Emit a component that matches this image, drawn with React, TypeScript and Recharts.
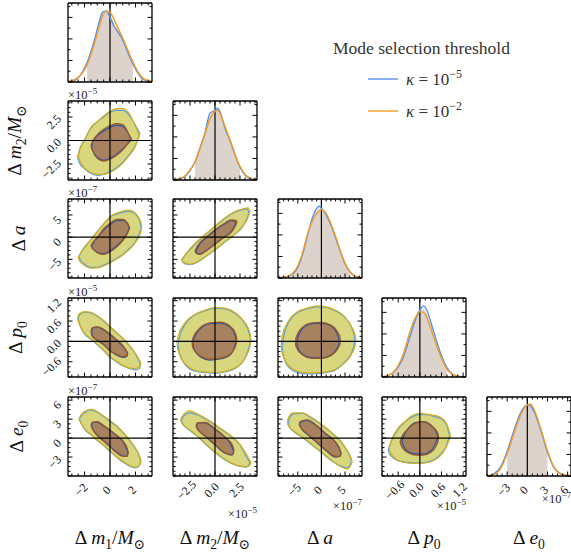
import React from 'react';
import { ComposedChart, Area, Line, XAxis, YAxis, ReferenceLine } from 'recharts';

// ---------------- axis definitions (values in plotted units) ----------------
const m1Domain = [-3.3, 3.3];
const m2Domain = [-4.2, 4.2];
const aDomain = [-9.2, 8.6];
const p0Domain = [-1.05, 1.28];
const e0Domain = [-6.0, 6.5];

const m1Major = [-2, 0, 2];
const m2Major = [-2.5, 0, 2.5];
const aMajor = [-5, 0, 5];
const p0Major = [-0.6, 0, 0.6, 1.2];
const e0Major = [-3, 0, 3, 6];

const m1TickLabels = ['−2', '0', '2'];
const m2TickLabels = ['−2.5', '0.0', '2.5'];
const aTickLabels = ['−5', '0', '5'];
const p0TickLabels = ['−0.6', '0.0', '0.6', '1.2'];
const e0TickLabels = ['−3', '0', '3', '6'];

const minorSteps = [0.5, 0.5, 1, 0.15, 0.75];
const offsetExponents = ['', '−5', '−7', '−5', '−7'];

// ---------------- 1D marginal curves (peak-normalised density) ----------------
const m1Grid = [-3.3, -3.0, -2.7, -2.4, -2.1, -1.8, -1.5, -1.2, -0.9, -0.6, -0.3, 0, 0.3, 0.6, 0.9, 1.2, 1.5, 1.8, 2.1, 2.4, 2.7, 3.0, 3.3];
const m1Blue = [0.0, 0.01, 0.03, 0.08, 0.16, 0.27, 0.42, 0.6, 0.8, 0.97, 0.99, 0.9, 0.78, 0.7, 0.62, 0.5, 0.37, 0.25, 0.15, 0.07, 0.03, 0.01, 0.0];
const m1Orange = [0.01, 0.02, 0.04, 0.08, 0.14, 0.24, 0.38, 0.55, 0.74, 0.91, 0.99, 0.97, 0.88, 0.76, 0.65, 0.53, 0.4, 0.28, 0.17, 0.09, 0.04, 0.02, 0.01];
const m1FillRange = [-1.8, 1.8];

const m2Grid = [-4.2, -3.5, -3.0, -2.5, -2.0, -1.5, -1.0, -0.5, 0, 0.25, 0.5, 1.0, 1.5, 2.0, 2.5, 3.0, 3.5, 4.2];
const m2Blue = [0.0, 0.02, 0.05, 0.13, 0.25, 0.45, 0.66, 0.93, 0.97, 1.0, 0.95, 0.72, 0.55, 0.35, 0.18, 0.07, 0.02, 0.0];
const m2Orange = [0.0, 0.02, 0.06, 0.14, 0.25, 0.44, 0.64, 0.85, 0.96, 0.97, 0.93, 0.74, 0.56, 0.36, 0.19, 0.08, 0.03, 0.01];
const m2FillRange = [-2.0, 2.5];

const aGrid = [-9.2, -8, -7, -6, -5, -4, -3, -2, -1, -0.5, 0, 1, 2, 3, 4, 5, 6, 7, 8, 8.6];
const aBlue = [0, 0.01, 0.02, 0.06, 0.15, 0.33, 0.58, 0.82, 0.97, 1.0, 0.97, 0.88, 0.74, 0.56, 0.37, 0.2, 0.09, 0.03, 0.01, 0];
const aOrange = [0, 0.01, 0.03, 0.07, 0.17, 0.35, 0.6, 0.78, 0.9, 0.93, 0.95, 0.9, 0.76, 0.58, 0.38, 0.21, 0.09, 0.03, 0.01, 0];
const aFillRange = [-6, 6];

const p0Grid = [-1.05, -0.9, -0.75, -0.6, -0.45, -0.3, -0.15, 0, 0.1, 0.2, 0.3, 0.45, 0.6, 0.75, 0.9, 1.05, 1.28];
const p0Blue = [0.0, 0.02, 0.06, 0.14, 0.29, 0.52, 0.76, 0.93, 0.99, 0.92, 0.77, 0.52, 0.3, 0.13, 0.04, 0.01, 0.0];
const p0Orange = [0.0, 0.02, 0.06, 0.16, 0.33, 0.59, 0.8, 0.91, 0.9, 0.82, 0.68, 0.46, 0.26, 0.11, 0.04, 0.01, 0.0];
const p0FillRange = [-0.75, 0.75];

const e0Grid = [-6, -5, -4, -3, -2, -1, 0, 0.5, 1, 2, 3, 4, 5, 6, 6.5];
const e0Blue = [0.0, 0.03, 0.12, 0.34, 0.63, 0.88, 0.99, 0.97, 0.9, 0.64, 0.33, 0.11, 0.03, 0.0, 0.0];
const e0Orange = [0.0, 0.02, 0.1, 0.31, 0.59, 0.85, 0.99, 1.0, 0.93, 0.66, 0.35, 0.12, 0.03, 0.01, 0.0];
const e0FillRange = [-3, 3];

// ---------------- 2D credible contours: [x, yLow, yHigh] ----------------
// row Δm2 vs col Δm1
const m2m1OrangeOuter = [[-2.5, -1.6, -1.6], [-2.35, -2.2, -0.9], [-2.0, -2.9, 0.0], [-1.5, -3.4, 1.4], [-1.0, -3.6, 2.0], [-0.5, -3.6, 2.6], [0, -3.4, 3.1], [0.5, -3.0, 3.4], [1.0, -2.4, 3.4], [1.5, -1.6, 2.9], [2.0, -0.6, 1.5], [2.2, 0.1, 0.9], [2.3, 0.5, 0.5]];
const m2m1BlueOuter = [[-2.55, -1.8, -1.8], [-2.4, -2.4, -1.0], [-2.0, -3.0, 0.1], [-1.5, -3.5, 1.3], [-1.0, -3.7, 2.0], [-0.5, -3.6, 2.5], [0, -3.3, 3.0], [0.5, -2.9, 3.2], [1.0, -2.3, 3.2], [1.5, -1.5, 2.7], [2.0, -0.5, 1.6], [2.25, 0.4, 1.0], [2.35, 0.7, 0.7]];
const m2m1OrangeInner = [[-1.5, -0.6, -0.6], [-1.4, -1.0, -0.2], [-1.0, -1.9, 0.6], [-0.5, -2.2, 1.2], [0, -2.0, 1.6], [0.5, -1.6, 1.8], [1.0, -1.0, 1.7], [1.4, -0.3, 0.9], [1.6, 0.2, 0.2]];
const m2m1BlueInner = [[-1.45, -0.7, -0.7], [-1.35, -1.1, -0.2], [-1.0, -1.8, 0.5], [-0.5, -2.1, 1.0], [0, -1.9, 1.4], [0.5, -1.5, 1.6], [1.0, -0.9, 1.5], [1.5, -0.2, 0.6], [1.7, 0.1, 0.1]];

// row Δa vs col Δm1
const am1OrangeOuter = [[-2.5, -4.7, -4.7], [-2.4, -5.3, -4.0], [-2.0, -6.4, -2.4], [-1.5, -7.0, -0.6], [-1.0, -6.9, 1.2], [-0.5, -6.5, 2.9], [0, -5.8, 4.6], [0.5, -5.0, 5.4], [1.0, -4.0, 5.9], [1.5, -2.8, 6.1], [2.0, -1.2, 5.4], [2.4, 1.0, 3.6], [2.5, 2.3, 2.3]];
const am1BlueOuter = [[-2.45, -4.5, -4.5], [-2.3, -5.2, -3.6], [-2.0, -6.1, -2.2], [-1.5, -6.8, -0.5], [-1.0, -6.8, 1.3], [-0.5, -6.3, 3.0], [0, -5.6, 4.5], [0.5, -4.8, 5.2], [1.0, -3.9, 5.6], [1.5, -2.6, 5.8], [2.0, -1.0, 5.2], [2.35, 1.2, 3.4], [2.45, 2.2, 2.2]];
const am1OrangeInner = [[-1.5, -2.0, -2.0], [-1.4, -2.4, -1.4], [-1.0, -3.5, 0.0], [-0.5, -3.9, 1.9], [0, -3.3, 3.1], [0.5, -2.3, 4.0], [1.0, -0.8, 4.0], [1.4, 1.0, 3.0], [1.55, 2.1, 2.1]];
const am1BlueInner = [[-1.45, -2.2, -2.2], [-1.3, -2.8, -1.2], [-1.0, -3.4, -0.2], [-0.5, -3.7, 1.6], [0, -3.1, 2.8], [0.5, -2.0, 3.7], [1.0, -0.6, 3.8], [1.4, 1.2, 3.0], [1.5, 2.0, 2.0]];

// row Δp0 vs col Δm1
const p0m1OrangeOuter = [[-2.55, 0.68, 0.68], [-2.45, 0.55, 0.8], [-2.0, 0.25, 0.88], [-1.5, 0.08, 0.86], [-1.0, -0.08, 0.76], [-0.5, -0.25, 0.62], [0, -0.45, 0.44], [0.5, -0.58, 0.27], [1.0, -0.7, 0.1], [1.5, -0.78, -0.1], [2.0, -0.8, -0.35], [2.35, -0.72, -0.58], [2.45, -0.66, -0.66]];
const p0m1BlueOuter = [[-2.5, 0.66, 0.66], [-2.4, 0.52, 0.78], [-2.0, 0.22, 0.86], [-1.5, 0.06, 0.84], [-1.0, -0.1, 0.74], [-0.5, -0.27, 0.6], [0, -0.47, 0.42], [0.5, -0.6, 0.26], [1.0, -0.72, 0.08], [1.5, -0.8, -0.12], [2.0, -0.84, -0.38], [2.3, -0.8, -0.6], [2.4, -0.72, -0.72]];
const p0m1OrangeInner = [[-1.5, 0.3, 0.3], [-1.4, 0.15, 0.4], [-1.0, 0.05, 0.43], [-0.5, -0.08, 0.36], [0, -0.27, 0.22], [0.5, -0.38, 0.06], [1.0, -0.45, -0.12], [1.3, -0.42, -0.28], [1.4, -0.36, -0.36]];
const p0m1BlueInner = [[-1.45, 0.28, 0.28], [-1.35, 0.14, 0.4], [-1.0, 0.03, 0.42], [-0.5, -0.1, 0.34], [0, -0.28, 0.2], [0.5, -0.4, 0.04], [1.0, -0.47, -0.14], [1.3, -0.45, -0.3], [1.4, -0.38, -0.38]];

// row Δe0 vs col Δm1
const e0m1OrangeOuter = [[-2.45, 3.0, 3.0], [-2.3, 2.4, 3.6], [-2.0, 1.5, 4.2], [-1.5, 0.6, 4.6], [-1.0, -0.3, 4.2], [-0.5, -1.1, 3.5], [0, -2.0, 2.8], [0.5, -2.9, 2.0], [1.0, -3.6, 1.0], [1.5, -4.3, -0.2], [2.0, -4.6, -1.6], [2.35, -4.2, -3.0], [2.45, -3.6, -3.6]];
const e0m1BlueOuter = [[-2.4, 3.0, 3.0], [-2.25, 2.3, 3.5], [-2.0, 1.4, 4.0], [-1.5, 0.5, 4.4], [-1.0, -0.4, 4.1], [-0.5, -1.2, 3.4], [0, -2.1, 2.6], [0.5, -3.0, 1.9], [1.0, -3.8, 0.9], [1.5, -4.4, -0.3], [2.0, -4.7, -1.7], [2.3, -4.4, -2.9], [2.4, -3.7, -3.7]];
const e0m1OrangeInner = [[-1.5, 2.0, 2.0], [-1.4, 1.5, 2.5], [-1.0, 0.4, 2.6], [-0.5, -0.5, 2.0], [0, -1.4, 1.3], [0.5, -2.3, 0.5], [1.0, -2.9, -0.4], [1.35, -2.9, -1.6], [1.45, -2.3, -2.3]];
const e0m1BlueInner = [[-1.45, 2.0, 2.0], [-1.35, 1.4, 2.5], [-1.0, 0.5, 2.5], [-0.5, -0.4, 1.9], [0, -1.3, 1.2], [0.5, -2.2, 0.4], [1.0, -2.8, -0.5], [1.3, -2.9, -1.7], [1.4, -2.4, -2.4]];

// row Δa vs col Δm2
const am2OrangeOuter = [[-3.35, -5.1, -5.1], [-3.2, -5.6, -4.6], [-2.5, -6.1, -2.6], [-2.0, -5.8, -1.4], [-1.0, -4.4, 0.6], [0, -2.8, 2.5], [1.0, -1.0, 4.4], [2.0, 0.8, 5.8], [2.8, 2.6, 6.4], [3.3, 4.4, 6.6], [3.5, 5.8, 5.8]];
const am2BlueOuter = [[-3.3, -5.3, -5.3], [-3.1, -5.9, -4.4], [-2.5, -6.2, -2.8], [-2.0, -5.9, -1.6], [-1.0, -4.5, 0.5], [0, -2.9, 2.4], [1.0, -1.1, 4.2], [2.0, 0.7, 5.6], [2.8, 2.5, 6.2], [3.2, 4.2, 6.3], [3.4, 5.5, 5.5]];
const am2OrangeInner = [[-2.0, -3.2, -3.2], [-1.9, -3.6, -2.6], [-1.5, -3.9, -1.2], [-1.0, -3.3, -0.2], [0, -1.6, 1.7], [1.0, 0.1, 3.2], [1.6, 1.0, 3.9], [2.1, 2.8, 3.8], [2.2, 3.4, 3.4]];
const am2BlueInner = [[-1.9, -3.3, -3.3], [-1.8, -3.7, -2.7], [-1.5, -3.8, -1.5], [-1.0, -3.2, -0.4], [0, -1.5, 1.5], [1.0, 0.2, 3.0], [1.6, 1.2, 3.7], [2.0, 2.7, 3.6], [2.1, 3.2, 3.2]];

// row Δp0 vs col Δm2
const p0m2OrangeOuter = [[-3.8, -0.05, -0.05], [-3.7, -0.25, 0.15], [-3.0, -0.65, 0.55], [-2.0, -0.85, 0.8], [-1.0, -0.9, 0.92], [0, -0.92, 1.0], [1.0, -0.88, 0.98], [2.0, -0.78, 0.85], [3.0, -0.5, 0.55], [3.5, -0.15, 0.25], [3.6, 0.05, 0.05]];
const p0m2BlueOuter = [[-3.7, -0.1, -0.1], [-3.55, -0.35, 0.12], [-3.0, -0.68, 0.5], [-2.0, -0.88, 0.78], [-1.0, -0.92, 0.9], [0, -0.94, 0.98], [1.0, -0.9, 0.96], [2.0, -0.8, 0.82], [3.0, -0.48, 0.52], [3.45, -0.1, 0.2], [3.55, 0.05, 0.05]];
const p0m2OrangeInner = [[-2.3, -0.05, -0.05], [-2.2, -0.2, 0.1], [-1.5, -0.42, 0.4], [-0.5, -0.52, 0.55], [0.5, -0.5, 0.57], [1.5, -0.38, 0.45], [2.1, -0.1, 0.2], [2.2, 0.05, 0.05]];
const p0m2BlueInner = [[-2.2, -0.05, -0.05], [-2.1, -0.22, 0.08], [-1.5, -0.45, 0.36], [-0.5, -0.55, 0.52], [0.5, -0.52, 0.54], [1.5, -0.4, 0.42], [2.0, -0.12, 0.18], [2.1, 0.03, 0.03]];

// row Δe0 vs col Δm2
const e0m2OrangeOuter = [[-3.45, 2.8, 2.8], [-3.3, 2.3, 3.4], [-2.5, 1.3, 4.3], [-1.5, 0.0, 3.6], [-0.5, -1.5, 2.7], [0.5, -2.8, 1.6], [1.5, -3.8, 0.5], [2.5, -4.4, -1.0], [3.3, -4.5, -3.0], [3.5, -4.2, -3.6], [3.6, -3.9, -3.9]];
const e0m2BlueOuter = [[-3.35, 2.7, 2.7], [-3.2, 2.2, 3.3], [-2.5, 1.2, 4.0], [-1.5, -0.1, 3.5], [-0.5, -1.6, 2.6], [0.5, -2.9, 1.5], [1.5, -3.9, 0.4], [2.5, -4.5, -1.1], [3.2, -4.6, -3.1], [3.4, -4.1, -3.6], [3.5, -3.85, -3.85]];
const e0m2OrangeInner = [[-1.9, 1.95, 1.95], [-1.8, 1.5, 2.4], [-1.0, 0.4, 2.5], [0, -1.0, 1.5], [1.0, -2.3, 0.2], [1.8, -2.6, -1.3], [1.9, -2.0, -2.0]];
const e0m2BlueInner = [[-1.85, 1.9, 1.9], [-1.7, 1.4, 2.4], [-1.0, 0.3, 2.4], [0, -1.1, 1.4], [1.0, -2.4, 0.1], [1.7, -2.7, -1.4], [1.85, -2.1, -2.1]];

// row Δp0 vs col Δa
const p0aOrangeOuter = [[-8.5, -0.1, -0.1], [-8.4, -0.3, 0.1], [-7, -0.7, 0.6], [-5, -0.88, 0.88], [-3, -0.93, 0.98], [-1, -0.92, 1.05], [1, -0.9, 1.02], [3, -0.82, 0.92], [5, -0.62, 0.72], [6.5, -0.35, 0.4], [7.2, -0.1, 0.15], [7.3, 0.02, 0.02]];
const p0aBlueOuter = [[-8.3, -0.15, -0.15], [-8.1, -0.4, 0.05], [-7, -0.75, 0.55], [-5, -0.92, 0.85], [-3, -0.96, 0.96], [-1, -0.95, 1.02], [1, -0.92, 1.0], [3, -0.84, 0.9], [5, -0.6, 0.7], [6.5, -0.3, 0.38], [7.0, -0.05, 0.12], [7.1, 0.03, 0.03]];
const p0aOrangeInner = [[-5.5, -0.02, -0.02], [-5.4, -0.15, 0.1], [-4, -0.4, 0.42], [-2, -0.5, 0.55], [0, -0.5, 0.56], [2, -0.42, 0.48], [3.9, -0.1, 0.15], [4.0, 0.02, 0.02]];
const p0aBlueInner = [[-5.2, -0.03, -0.03], [-5.0, -0.18, 0.1], [-4, -0.38, 0.38], [-2, -0.48, 0.52], [0, -0.49, 0.54], [2, -0.4, 0.46], [3.6, -0.12, 0.12], [3.8, 0.0, 0.0]];

// row Δe0 vs col Δa
const e0aOrangeOuter = [[-7.2, 2.5, 2.5], [-7, 1.9, 3.2], [-6, 1.2, 4.0], [-4, 0.2, 4.0], [-2, -1.0, 3.2], [0, -2.2, 2.2], [2, -3.4, 1.0], [4, -4.5, -0.4], [5.5, -4.9, -2.0], [6.3, -4.2, -3.2], [6.5, -3.7, -3.7]];
const e0aBlueOuter = [[-7.0, 2.4, 2.4], [-6.8, 1.8, 3.1], [-6, 1.1, 3.8], [-4, 0.1, 3.9], [-2, -1.1, 3.1], [0, -2.3, 2.1], [2, -3.5, 0.9], [4, -4.4, -0.5], [5.5, -4.7, -2.1], [6.2, -4.1, -3.2], [6.4, -3.6, -3.6]];
const e0aOrangeInner = [[-4.7, 2.2, 2.2], [-4.5, 1.8, 2.6], [-3, 0.7, 2.9], [-1, -0.6, 2.0], [1, -1.9, 0.7], [3, -2.9, -0.6], [4, -2.9, -1.9], [4.2, -2.4, -2.4]];
const e0aBlueInner = [[-4.6, 2.1, 2.1], [-4.4, 1.7, 2.5], [-3, 0.6, 2.8], [-1, -0.7, 1.9], [1, -2.0, 0.6], [3, -3.0, -0.7], [3.9, -2.9, -1.9], [4.1, -2.4, -2.4]];

// row Δe0 vs col Δp0
const e0p0OrangeOuter = [[-0.85, -1.5, -1.5], [-0.8, -2.5, -0.5], [-0.6, -3.5, 1.6], [-0.4, -3.9, 2.7], [-0.2, -4.0, 3.6], [0, -4.0, 3.9], [0.2, -3.9, 3.8], [0.4, -3.5, 3.6], [0.6, -2.6, 3.2], [0.75, -1.2, 2.2], [0.82, -0.2, 1.0], [0.85, 0.4, 0.4]];
const e0p0BlueOuter = [[-0.88, -2.0, -2.0], [-0.82, -2.7, -0.9], [-0.6, -3.6, 1.4], [-0.4, -3.8, 2.6], [-0.2, -3.9, 3.4], [0, -3.9, 3.7], [0.2, -3.8, 3.7], [0.4, -3.4, 3.4], [0.6, -2.4, 3.0], [0.75, -1.0, 2.0], [0.8, 0.0, 0.9], [0.83, 0.45, 0.45]];
const e0p0OrangeInner = [[-0.55, -0.6, -0.6], [-0.5, -1.4, 0.2], [-0.3, -2.4, 1.6], [-0.1, -2.7, 2.4], [0.1, -2.7, 2.6], [0.3, -2.3, 2.0], [0.5, -0.6, 0.8], [0.52, 0.1, 0.1]];
const e0p0BlueInner = [[-0.5, -0.5, -0.5], [-0.45, -1.3, 0.3], [-0.3, -2.2, 1.7], [-0.1, -2.5, 2.5], [0.1, -2.5, 2.6], [0.3, -2.0, 2.1], [0.45, -0.6, 1.0], [0.5, 0.2, 0.2]];

// ---------------- styling ----------------
const SERIF = '"Liberation Serif", "DejaVu Serif", serif';
const BLUE = '#5590ef';
const ORANGE = '#f49b22';
const DIAG_FILL = '#ddd3cd';
const OUTER_FILL = '#d9d77d';
const INNER_FILL = '#a8825f';
const BLUE_OUTER_EDGE = '#5fa4dc';
const ORANGE_OUTER_EDGE = '#d5b01e';
const BLUE_INNER_EDGE = '#2f56a8';
const ORANGE_INNER_EDGE = '#9a5a22';

const colX = [68, 173, 278, 382, 487];
const rowY = [3, 101, 199, 298, 397];
const PW = 84;
const PH = 79;
const M = 30;
const AX = 1; // axis band thickness (kept tiny; plot box stays at M)

type VarDef = { domain: number[]; major: number[]; labels: string[]; minor: number };

const VARS: VarDef[] = [
  { domain: m1Domain, major: m1Major, labels: m1TickLabels, minor: minorSteps[0] },
  { domain: m2Domain, major: m2Major, labels: m2TickLabels, minor: minorSteps[1] },
  { domain: aDomain, major: aMajor, labels: aTickLabels, minor: minorSteps[2] },
  { domain: p0Domain, major: p0Major, labels: p0TickLabels, minor: minorSteps[3] },
  { domain: e0Domain, major: e0Major, labels: e0TickLabels, minor: minorSteps[4] },
];
const DENS: VarDef = { domain: [0, 1.1], major: [0, 0.3, 0.6, 0.9], labels: [], minor: 0.15 };

function tickValues(v: VarDef) {
  const out: number[] = [];
  const k0 = Math.ceil(v.domain[0] / v.minor - 1e-6);
  const k1 = Math.floor(v.domain[1] / v.minor + 1e-6);
  for (let k = k0; k <= k1; k++) out.push(Math.round(k * v.minor * 1e6) / 1e6);
  return out;
}

const TICK_FS = 12;
const textW = (s: string) => {
  let w = 0;
  for (const c of s) w += c === '.' ? 0.25 : c === '−' ? 0.56 : 0.5;
  return w * TICK_FS;
};

function makeTick(side: string, v: VarDef, withLabels: boolean) {
  return (props: any) => {
    const { x, y, payload } = props;
    const val = Number(payload.value);
    const mi = v.major.findIndex((m) => Math.abs(m - val) < 1e-6);
    const len = mi >= 0 ? 4.5 : 2.5;
    let x2 = x;
    let y2 = y;
    if (side === 'bottom') y2 = y - len;
    else if (side === 'top') y2 = y + len;
    else if (side === 'left') x2 = x + len;
    else x2 = x - len;
    let label: any = null;
    if (withLabels && mi >= 0 && v.labels[mi] !== undefined) {
      const t = v.labels[mi];
      if (side === 'bottom') {
        const cx = x - 3.5;
        const cy = y + 14;
        label = (
          <text x={cx} y={cy} transform={`rotate(-45 ${cx} ${cy})`} textAnchor="middle" dominantBaseline="central" fontSize={TICK_FS} fontFamily={SERIF} fill="#111" stroke="none">
            {t}
          </text>
        );
      } else if (side === 'left') {
        const px = x - 6;
        const py = y + 5 - 0.354 * (textW(t) - 8);
        label = (
          <text x={px} y={py} transform={`rotate(-45 ${px} ${py})`} textAnchor="end" fontSize={TICK_FS} fontFamily={SERIF} fill="#111" stroke="none">
            {t}
          </text>
        );
      }
    }
    return (
      <g>
        <line x1={x} y1={y} x2={x2} y2={y2} stroke="#000" strokeWidth={1} />
        {label}
      </g>
    );
  };
}

function axes(xv: VarDef, yv: VarDef, showX: boolean, showY: boolean) {
  const xt = tickValues(xv);
  const yt = tickValues(yv);
  const common: any = {
    type: 'number',
    allowDataOverflow: true,
    interval: 0,
    tickLine: false,
    tickSize: 0,
    tickMargin: 0,
    axisLine: { stroke: '#000', strokeWidth: 1.3 },
  };
  return [
    <XAxis key="xb" xAxisId="b" dataKey="x" orientation="bottom" height={AX} domain={xv.domain} ticks={xt} tick={makeTick('bottom', xv, showX)} {...common} />,
    <XAxis key="xt" xAxisId="t" dataKey="x" orientation="top" height={AX} domain={xv.domain} ticks={xt} tick={makeTick('top', xv, false)} {...common} />,
    <YAxis key="yl" yAxisId="l" orientation="left" width={AX} domain={yv.domain} ticks={yt} tick={makeTick('left', yv, showY)} {...common} />,
    <YAxis key="yr" yAxisId="r" orientation="right" width={AX} domain={yv.domain} ticks={yt} tick={makeTick('right', yv, false)} {...common} />,
  ];
}

// ---------------- assemble panel tables ----------------
const diagTable = [
  { grid: m1Grid, blue: m1Blue, orange: m1Orange, fill: m1FillRange },
  { grid: m2Grid, blue: m2Blue, orange: m2Orange, fill: m2FillRange },
  { grid: aGrid, blue: aBlue, orange: aOrange, fill: aFillRange },
  { grid: p0Grid, blue: p0Blue, orange: p0Orange, fill: p0FillRange },
  { grid: e0Grid, blue: e0Blue, orange: e0Orange, fill: e0FillRange },
];

const contourTable = [
  { row: 1, col: 0, bo: m2m1BlueOuter, bi: m2m1BlueInner, oo: m2m1OrangeOuter, oi: m2m1OrangeInner },
  { row: 2, col: 0, bo: am1BlueOuter, bi: am1BlueInner, oo: am1OrangeOuter, oi: am1OrangeInner },
  { row: 3, col: 0, bo: p0m1BlueOuter, bi: p0m1BlueInner, oo: p0m1OrangeOuter, oi: p0m1OrangeInner },
  { row: 4, col: 0, bo: e0m1BlueOuter, bi: e0m1BlueInner, oo: e0m1OrangeOuter, oi: e0m1OrangeInner },
  { row: 2, col: 1, bo: am2BlueOuter, bi: am2BlueInner, oo: am2OrangeOuter, oi: am2OrangeInner },
  { row: 3, col: 1, bo: p0m2BlueOuter, bi: p0m2BlueInner, oo: p0m2OrangeOuter, oi: p0m2OrangeInner },
  { row: 4, col: 1, bo: e0m2BlueOuter, bi: e0m2BlueInner, oo: e0m2OrangeOuter, oi: e0m2OrangeInner },
  { row: 3, col: 2, bo: p0aBlueOuter, bi: p0aBlueInner, oo: p0aOrangeOuter, oi: p0aOrangeInner },
  { row: 4, col: 2, bo: e0aBlueOuter, bi: e0aBlueInner, oo: e0aOrangeOuter, oi: e0aOrangeInner },
  { row: 4, col: 3, bo: e0p0BlueOuter, bi: e0p0BlueInner, oo: e0p0OrangeOuter, oi: e0p0OrangeInner },
];

function diagRows(d: any) {
  return d.grid.map((x: number, i: number) => ({
    x,
    b: d.blue[i],
    o: d.orange[i],
    f: x >= d.fill[0] - 1e-9 && x <= d.fill[1] + 1e-9 ? (d.blue[i] + d.orange[i]) / 2 : null,
  }));
}

function contourRows(p: any) {
  const rows: any[] = [];
  ['oo', 'bo', 'oi', 'bi'].forEach((k) => {
    p[k].forEach((pt: number[]) => rows.push({ x: pt[0], [k]: [pt[1], pt[2]] }));
  });
  rows.sort((a, b) => a.x - b.x);
  return rows;
}

const chartMargin = { top: M - AX, right: M - AX, bottom: M - AX, left: M - AX };

function Wrap({ row, col, children }: any) {
  return <div style={{ position: 'absolute', left: colX[col] - M, top: rowY[row] - M }}>{children}</div>;
}

function DiagPanel({ i }: { i: number }) {
  const data = diagRows(diagTable[i]);
  return (
    <Wrap row={i} col={i}>
      <ComposedChart width={PW + 2 * M} height={PH + 2 * M} margin={chartMargin} data={data}>
        {axes(VARS[i], DENS, i === 4, false)}
        <Area xAxisId="b" yAxisId="l" dataKey="f" type="monotone" fill={DIAG_FILL} fillOpacity={1} stroke="none" isAnimationActive={false} dot={false} activeDot={false} />
        <ReferenceLine xAxisId="b" yAxisId="l" x={0} stroke="#000" strokeWidth={1.2} />
        <Line xAxisId="b" yAxisId="l" dataKey="b" type="monotone" stroke={BLUE} strokeWidth={1.4} dot={false} activeDot={false} isAnimationActive={false} />
        <Line xAxisId="b" yAxisId="l" dataKey="o" type="monotone" stroke={ORANGE} strokeWidth={1.4} dot={false} activeDot={false} isAnimationActive={false} />
      </ComposedChart>
    </Wrap>
  );
}

function ContourPanel({ p }: { p: any }) {
  const data = contourRows(p);
  const base: any = { xAxisId: 'b', yAxisId: 'l', type: 'monotone', connectNulls: true, isAnimationActive: false, dot: false, activeDot: false };
  return (
    <Wrap row={p.row} col={p.col}>
      <ComposedChart width={PW + 2 * M} height={PH + 2 * M} margin={chartMargin} data={data}>
        {axes(VARS[p.col], VARS[p.row], p.row === 4, p.col === 0)}
        <Area {...base} dataKey="oo" fill={OUTER_FILL} fillOpacity={1} stroke="none" />
        <Area {...base} dataKey="bo" fill={OUTER_FILL} fillOpacity={1} stroke="none" />
        <Area {...base} dataKey="oi" fill={INNER_FILL} fillOpacity={1} stroke="none" />
        <Area {...base} dataKey="bi" fill={INNER_FILL} fillOpacity={1} stroke="none" />
        <Area {...base} dataKey="bo" fill="none" stroke={BLUE_OUTER_EDGE} strokeWidth={1.2} />
        <Area {...base} dataKey="oo" fill="none" stroke={ORANGE_OUTER_EDGE} strokeWidth={1.2} />
        <Area {...base} dataKey="bi" fill="none" stroke={BLUE_INNER_EDGE} strokeWidth={1.2} />
        <Area {...base} dataKey="oi" fill="none" stroke={ORANGE_INNER_EDGE} strokeWidth={1.2} />
        <ReferenceLine xAxisId="b" yAxisId="l" x={0} stroke="#000" strokeWidth={1.2} />
        <ReferenceLine xAxisId="b" yAxisId="l" y={0} stroke="#000" strokeWidth={1.2} />
      </ComposedChart>
    </Wrap>
  );
}

// ---------------- text overlay ----------------
const SUB = 4.5;
function VarLabel({ i }: { i: number }) {
  if (i === 0 || i === 1)
    return (
      <>
        <tspan>Δ </tspan>
        <tspan fontStyle="italic">m</tspan>
        <tspan dy={SUB} fontSize="0.7em">{i === 0 ? '1' : '2'}</tspan>
        <tspan dy={-SUB}>/</tspan>
        <tspan fontStyle="italic">M</tspan>
        <tspan dy={SUB} fontSize="0.7em">⊙</tspan>
      </>
    );
  if (i === 2)
    return (
      <>
        <tspan>Δ </tspan>
        <tspan fontStyle="italic">a</tspan>
      </>
    );
  return (
    <>
      <tspan>Δ </tspan>
      <tspan fontStyle="italic">{i === 3 ? 'p' : 'e'}</tspan>
      <tspan dy={SUB} fontSize="0.7em">0</tspan>
    </>
  );
}

const yLabelBaseline = [0, 21, 25, 22, 23];
const xOffsetBaseline = [0, 518, 510, 510, 503];
const LABEL_FS = 19.5;

function Overlay() {
  return (
    <svg width={571} height={557} style={{ position: 'absolute', left: 0, top: 0, pointerEvents: 'none' }} fontFamily={SERIF}>
      {[1, 2, 3, 4].map((r) => {
        const cy = rowY[r] + PH / 2;
        const bx = yLabelBaseline[r];
        return (
          <text key={'yl' + r} x={bx} y={cy} transform={`rotate(-90 ${bx} ${cy})`} textAnchor="middle" fontSize={LABEL_FS} fill="#111">
            <VarLabel i={r} />
          </text>
        );
      })}
      {[0, 1, 2, 3, 4].map((c) => (
        <text key={'xl' + c} x={colX[c] + PW / 2} y={544} textAnchor="middle" fontSize={LABEL_FS} fill="#111">
          <VarLabel i={c} />
        </text>
      ))}
      {[1, 2, 3, 4].map((r) => (
        <text key={'yo' + r} x={colX[0]} y={rowY[r] - 2} fontSize={12.5} fill="#222">
          ×10<tspan dy={-5} fontSize={9}>{offsetExponents[r]}</tspan>
        </text>
      ))}
      {[1, 2, 3, 4].map((c) => (
        <text key={'xo' + c} x={colX[c] + PW} y={xOffsetBaseline[c]} textAnchor="end" fontSize={12.5} fill="#222">
          ×10<tspan dy={-5} fontSize={9}>{offsetExponents[c]}</tspan>
        </text>
      ))}
      <text x={421.5} y={54} textAnchor="middle" fontSize={17.5} fill="#333">Mode selection threshold</text>
      <line x1={368} x2={398} y1={79} y2={79} stroke={BLUE} strokeWidth={1.4} />
      <text x={406} y={85} fontSize={17} fill="#333">
        <tspan fontStyle="italic">κ</tspan> = 10<tspan dy={-7} fontSize={12}>−5</tspan>
      </text>
      <line x1={368} x2={398} y1={111} y2={111} stroke={ORANGE} strokeWidth={1.4} />
      <text x={406} y={117} fontSize={17} fill="#333">
        <tspan fontStyle="italic">κ</tspan> = 10<tspan dy={-7} fontSize={12}>−2</tspan>
      </text>
    </svg>
  );
}

export default function App() {
  return (
    <div style={{ position: 'absolute', left: 0, top: 0, width: 571, height: 557, overflow: 'hidden', background: '#fff' }}>
      {[0, 1, 2, 3, 4].map((i) => (
        <DiagPanel key={'d' + i} i={i} />
      ))}
      {contourTable.map((p) => (
        <ContourPanel key={'c' + p.row + p.col} p={p} />
      ))}
      <Overlay />
    </div>
  );
}
